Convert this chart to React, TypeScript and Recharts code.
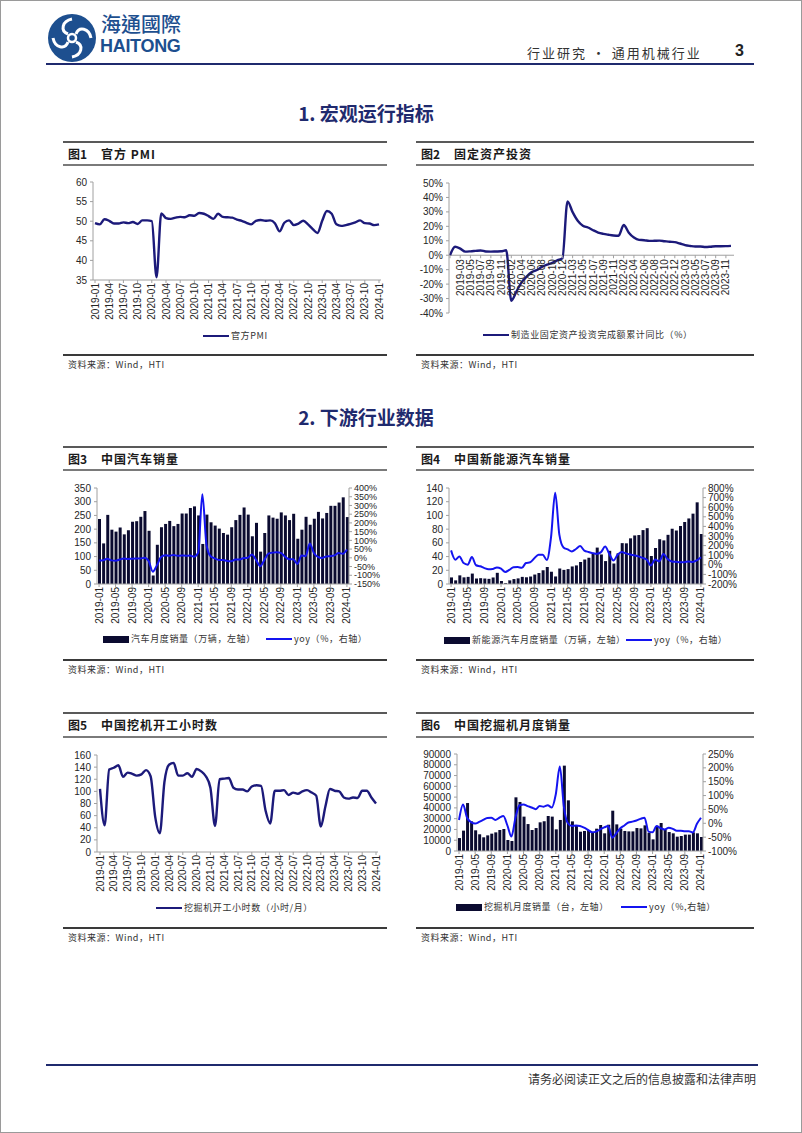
import React from "react";
import { ComposedChart, LineChart, Line, Bar, XAxis, YAxis, ReferenceLine } from "recharts";

const FONT = "'Liberation Sans', Arial, sans-serif";
const CJK = "'Noto Sans CJK SC', 'Noto Sans', sans-serif";
const NAVY = "#1c1a7a";
const BLUE = "#1414f0";
const BARC = "#0b0b30";
const AXIS = "#a0a0a0";

function monthRange(y0: number, m0: number, y1: number, m1: number, skipJan = false) {
  const out: string[] = [];
  for (let y = y0; y <= y1; y++) {
    for (let m = 1; m <= 12; m++) {
      if ((y === y0 && m < m0) || (y === y1 && m > m1)) continue;
      if (skipJan && m === 1) continue;
      out.push(`${y}-${String(m).padStart(2, "0")}`);
    }
  }
  return out;
}

// categories
const months = monthRange(2019, 1, 2024, 1);
const faiMonths = ["", ...monthRange(2019, 2, 2023, 12, true)];

// 图1 官方PMI
const pmi = [
  49.5, 49.2, 50.5, 50.1, 49.4, 49.4, 49.7, 49.5, 49.8, 49.3, 50.2, 50.2,
  50.0, 35.7, 52.0, 50.8, 50.6, 50.9, 51.1, 51.0, 51.5, 51.4, 52.1, 51.9,
  51.3, 50.6, 51.9, 51.1, 51.0, 50.9, 50.4, 50.1, 49.6, 49.2, 50.1, 50.3,
  50.1, 50.2, 49.5, 47.4, 49.6, 50.2, 49.0, 49.4, 50.1, 49.2, 48.0, 47.0,
  50.1, 52.6, 51.9, 49.2, 48.8, 49.0, 49.3, 49.7, 50.2, 49.5, 49.4, 49.0,
  49.2,
];
const pmiTicks = [35, 40, 45, 50, 55, 60];

// 图2 制造业固定资产投资累计同比
const fai = [
  0,
  5.9, 4.6, 2.5, 2.7, 3.0, 3.3, 2.6, 2.5, 2.6, 2.7, 3.4,
  -31.5, -25.2, -18.8, -14.8, -11.7, -10.2, -8.1, -6.5, -5.3, -3.5, -2.2,
  37.3, 29.8, 23.8, 20.4, 19.2, 17.3, 15.7, 14.8, 14.2, 13.7, 13.5,
  20.9, 15.6, 12.2, 10.6, 10.4, 9.9, 10.0, 10.1, 9.7, 9.3, 9.1,
  8.1, 7.0, 6.4, 6.0, 6.0, 5.7, 5.9, 6.2, 6.2, 6.3, 6.5,
];
const faiTicks = [-40, -30, -20, -10, 0, 10, 20, 30, 40, 50];

// 图3 汽车销量
const autoSales = [
  237, 148, 252, 198, 191, 206, 181, 196, 227, 229, 245, 266,
  194, 31, 143, 207, 219, 230, 211, 219, 257, 257, 277, 283,
  250, 146, 253, 225, 213, 202, 186, 180, 207, 233, 252, 279,
  253, 174, 223, 118, 186, 250, 242, 238, 261, 250, 233, 256,
  165, 198, 245, 216, 238, 263, 239, 259, 285, 285, 297, 316,
  244,
];
const autoYoy = [
  -15.8, -13.8, -5.2, -14.6, -16.4, -9.6, -4.3, -6.9, -5.2, -4.0, -3.6, 0.1,
  -18.7, -79.1, -43.3, 4.4, 14.5, 11.6, 16.4, 11.6, 12.8, 12.5, 12.6, 6.4,
  29.5, 364.9, 74.9, 8.6, -3.1, -12.4, -11.9, -17.8, -19.6, -9.4, -9.1, -1.6,
  0.9, 18.7, -11.7, -47.6, -12.6, 23.8, 29.7, 32.1, 28.1, 6.9, -7.9, -8.4,
  -35.0, 13.5, 9.7, 82.7, 27.9, 4.8, -1.5, 8.2, 9.5, 13.8, 27.4, 23.5,
  47.9,
];
const autoLeftTicks = [0, 50, 100, 150, 200, 250, 300, 350];
const autoRightTicks = [-150, -100, -50, 0, 50, 100, 150, 200, 250, 300, 350, 400];

// 图4 新能源汽车销量
const nevSales = [
  9.6, 5.3, 12.6, 9.7, 10.4, 15.2, 8.0, 8.5, 8.0, 7.5, 9.5, 16.3,
  4.4, 1.3, 5.3, 7.2, 8.2, 10.4, 9.8, 10.9, 13.8, 16.0, 20.0, 24.8,
  17.9, 11.0, 22.6, 20.6, 21.7, 25.6, 27.1, 32.1, 35.7, 38.3, 45.0, 53.1,
  43.1, 33.4, 48.4, 29.9, 44.7, 59.6, 59.3, 66.6, 70.8, 71.4, 78.6, 81.4,
  40.8, 52.5, 65.3, 63.6, 71.7, 80.6, 78.0, 84.6, 90.4, 95.6, 102.6, 119.1,
  72.9,
];
const nevYoy = [
  150, 53.6, 85.4, 18.1, 1.8, 80.0, -4.7, -15.8, -34.2, -45.6, -43.7, -27.4,
  -40, -75.2, -53.2, -26.2, -23.5, -31.7, 19.3, 25.8, 67.7, 104.5, 104.9, 49.5,
  285.8, 750, 314.4, 180.3, 160.1, 139.3, 164.9, 194.9, 148.1, 133.8, 121.8, 114.1,
  132.0, 190, 114.2, 44.6, 105.2, 133.0, 118.6, 107.6, 98.2, 87.6, 72.3, 51.8,
  -6.9, 55.9, 34.8, 112.8, 60.2, 35.2, 31.6, 27.0, 27.7, 33.9, 30.0, 46.4,
  78.8,
];
const nevLeftTicks = [0, 20, 40, 60, 80, 100, 120, 140];
const nevRightTicks = [-200, -100, 0, 100, 200, 300, 400, 500, 600, 700, 800];

// 图5 挖机开工小时数
const excHours = [
  104, 44, 136, 139, 143, 124, 131, 129, 126, 128, 135, 125,
  58, 31, 115, 144, 147, 126, 126, 130, 124, 137, 133, 125,
  106, 43, 120, 121, 122, 106, 103, 103, 100, 108, 110, 109,
  68, 47, 101, 101, 102, 94, 98, 96, 100, 102, 98, 93,
  42, 75, 104, 101, 100, 90, 88, 90, 89, 101, 101, 90,
  80,
];
const hoursTicks = [0, 20, 40, 60, 80, 100, 120, 140, 160];

// 图6 挖掘机月度销量
const excSales = [
  12000, 18900, 44500, 27500, 19200, 15500, 12700, 14500, 16100, 17300, 19500, 20400,
  10200, 9300, 49800, 45500, 31900, 25000, 19500, 21300, 26600, 27500, 32500, 31900,
  20100, 28800, 79200, 47000, 27500, 23200, 17900, 18600, 19500, 17600, 20700, 24100,
  16400, 24400, 37400, 24700, 20700, 18600, 18200, 18200, 21300, 21000, 23800, 17000,
  10800, 22900, 26000, 20100, 17600, 16400, 13300, 13900, 15200, 15200, 17300, 16400,
  13000,
];
const excYoy = [
  12, 68, 20, 4, -1, 5, 12, 19, 20, 12, 20, 26,
  -8, -48, 20, 65, 68, 62, 57, 51, 62, 60, 65, 57,
  105, 205, 60, 0, -10, -8, -10, -16, -24, -32, -30, -22,
  -15, -10, -52, -36, -18, -8, 3, 6, 10, 16, 20, -30,
  -32, -10, -18, -22, -16, -20, -27, -27, -29, -29, -33, -2,
  20,
];
const excLeftTicks = [0, 10000, 20000, 30000, 40000, 50000, 60000, 70000, 80000, 90000];
const excRightTicks = [-100, -50, 0, 50, 100, 150, 200, 250];

const pmiData = months.map((m, i) => ({ m, v: pmi[i] }));
const faiData = faiMonths.map((m, i) => ({ m, v: fai[i] }));
const autoData = months.map((m, i) => ({ m, bar: autoSales[i], yoy: autoYoy[i] }));
const nevData = months.map((m, i) => ({ m, bar: nevSales[i], yoy: nevYoy[i] }));
const hoursData = months.map((m, i) => ({ m, v: excHours[i] }));
const excData = months.map((m, i) => ({ m, bar: excSales[i], yoy: excYoy[i] }));

const tickStyle = { fontSize: 10, fill: "#262626", fontFamily: FONT };
const smallTick = { fontSize: 9, fill: "#262626", fontFamily: FONT };
const pct = (v: number) => `${v}%`;

function RotTick(props: any) {
  const { x, y, payload } = props;
  return (
    <text
      x={x}
      y={y}
      transform={`rotate(-90 ${x} ${y})`}
      textAnchor="end"
      dominantBaseline="central"
      fontSize={10}
      fill="#262626"
      fontFamily={FONT}
    >
      {payload.value}
    </text>
  );
}

// ticks sit on the zero line of 图2, not on the bottom of the plot
const FAI_ZERO_SHIFT = (130 * 40) / 90;
function FaiTick(props: any) {
  const { x, y, payload } = props;
  const zy = y - FAI_ZERO_SHIFT;
  const ty = zy + 4;
  return (
    <g>
      <line x1={x} y1={zy} x2={x} y2={zy + 3} stroke={AXIS} />
      <text
        x={x}
        y={ty}
        transform={`rotate(-90 ${x} ${ty})`}
        textAnchor="end"
        dominantBaseline="central"
        fontSize={10}
        fill="#262626"
        fontFamily={FONT}
      >
        {payload.value}
      </text>
    </g>
  );
}

function Abs({ x, y, children, style }: any) {
  return <div style={{ position: "absolute", left: x, top: y, ...style }}>{children}</div>;
}

function Panel({ left, width, top, underline, bottom, no, title }: any) {
  return (
    <>
      <Abs x={left} y={top - 1} style={{ width, height: 2, background: "#595959" }} />
      <Abs
        x={left + 5}
        y={top + 4}
        style={{ fontFamily: CJK, fontSize: 12, fontWeight: 700, color: "#1a1a1a", whiteSpace: "nowrap", lineHeight: "15px" }}
      >
        <span>图{no}</span>
        <span style={{ marginLeft: 14, letterSpacing: 1 }}>{title}</span>
      </Abs>
      <Abs x={left} y={underline} style={{ width, height: 1.5, background: "#7a7a7a" }} />
      <Abs x={left} y={bottom} style={{ width, height: 1.5, background: "#3a3a3a" }} />
      <Abs
        x={left + 5}
        y={bottom + 5}
        style={{ fontFamily: CJK, fontSize: 9, color: "#333", whiteSpace: "nowrap", lineHeight: "12px", letterSpacing: 0.5 }}
      >
        资料来源：Wind，HTI
      </Abs>
    </>
  );
}

function LegendItem({ x, y, kind, color, text, sw = 26 }: any) {
  const h = kind === "bar" ? 7 : 2.5;
  return (
    <>
      <Abs x={x} y={y - h / 2} style={{ width: sw, height: h, background: color }} />
      <Abs
        x={x + sw + 2}
        y={y - 7}
        style={{ fontFamily: CJK, fontSize: 9, color: "#333", whiteSpace: "nowrap", lineHeight: "14px", letterSpacing: 0.6 }}
      >
        {text}
      </Abs>
    </>
  );
}

function SectionTitle({ y, text }: any) {
  return (
    <Abs
      x={0}
      y={y - 12}
      style={{ width: 730, textAlign: "center", fontFamily: CJK, fontWeight: 700, fontSize: 19, color: "#1f2a6e", lineHeight: "24px", whiteSpace: "nowrap" }}
    >
      {text}
    </Abs>
  );
}

function Logo() {
  return (
    <svg style={{ position: "absolute", left: 46, top: 12 }} width={50} height={50} viewBox="0 0 50 50">
      <circle cx={25} cy={25} r={24} fill="#1d4f8f" />
      <circle cx={25} cy={25} r={4} fill="none" stroke="#fff" strokeWidth={2.5} />
      <path d="M25 6 C15 8 13 18 21 21" fill="none" stroke="#fff" strokeWidth={3} />
      <path d="M44 25 C42 15 32 13 29 21" fill="none" stroke="#fff" strokeWidth={3} />
      <path d="M25 44 C35 42 37 32 29 29" fill="none" stroke="#fff" strokeWidth={3} />
      <path d="M6 25 C8 35 18 37 21 29" fill="none" stroke="#fff" strokeWidth={3} />
    </svg>
  );
}

export default function App() {
  return (
    <div
      style={{
        position: "absolute",
        left: 0,
        top: 0,
        width: 802,
        height: 1133,
        background: "#fff",
        overflow: "hidden",
        boxSizing: "border-box",
        border: "1px solid #9a9a9a",
      }}
    >
      {/* header */}
      <Logo />
      <Abs x={100} y={11} style={{ fontFamily: "'Noto Sans CJK TC', sans-serif", fontSize: 20, color: "#1d4f8f", lineHeight: "24px", fontWeight: 500, letterSpacing: 0 }}>
        海通國際
      </Abs>
      <Abs x={99} y={35} style={{ fontFamily: FONT, fontSize: 18, fontWeight: 700, color: "#1d4f8f", lineHeight: "20px", letterSpacing: -0.3 }}>
        HAITONG
      </Abs>
      <Abs x={526} y={44} style={{ fontFamily: CJK, fontSize: 13, color: "#333", lineHeight: "16px", letterSpacing: 2, whiteSpace: "nowrap" }}>
        行业研究 • 通用机械行业
      </Abs>
      <Abs x={734} y={41} style={{ fontFamily: FONT, fontSize: 16, fontWeight: 700, color: "#222", lineHeight: "18px" }}>
        3
      </Abs>
      <Abs x={45} y={62} style={{ width: 708, height: 2, background: "#1f2a6e" }} />

      <SectionTitle y={112} text="1. 宏观运行指标" />
      <SectionTitle y={416} text="2. 下游行业数据" />

      {/* row 1 */}
      <Panel left={62} width={324} top={141} underline={163} bottom={353} no={1} title="官方 PMI" />
      <Panel left={415} width={338} top={141} underline={163} bottom={353} no={2} title="固定资产投资" />

      <Abs x={62} y={170}>
        <LineChart width={330} height={155} data={pmiData} margin={{ top: 11, right: 12, left: 0, bottom: 0 }}>
          <XAxis
            dataKey="m"
            interval={2}
            height={46}
            tick={<RotTick />}
            tickSize={3}
            tickMargin={0}
            stroke={AXIS}
            padding={{ left: 2, right: 2 }}
          />
          <YAxis width={30} domain={[35, 60]} ticks={pmiTicks} interval={0} tick={tickStyle} tickSize={3} tickMargin={3} stroke={AXIS} />
          <Line type="monotone" dataKey="v" stroke={NAVY} strokeWidth={2.4} dot={false} isAnimationActive={false} />
        </LineChart>
      </Abs>
      <LegendItem x={202} y={335} kind="line" color={NAVY} text="官方PMI" />

      <Abs x={415} y={170}>
        <LineChart width={340} height={160} data={faiData} margin={{ top: 12, right: 22, left: 0, bottom: 0 }}>
          <XAxis
            dataKey="m"
            interval={1}
            height={18}
            axisLine={false}
            tickLine={false}
            tickSize={0}
            tickMargin={0}
            tick={<FaiTick />}
            padding={{ left: 1, right: 3 }}
          />
          <YAxis width={33} domain={[-40, 50]} ticks={faiTicks} interval={0} tickFormatter={pct} tick={tickStyle} tickSize={3} tickMargin={3} stroke={AXIS} />
          <ReferenceLine y={0} stroke={AXIS} />
          <Line type="monotone" dataKey="v" stroke={NAVY} strokeWidth={2.4} dot={false} isAnimationActive={false} />
        </LineChart>
      </Abs>
      <LegendItem x={482} y={334} kind="line" color={NAVY} text="制造业固定资产投资完成额累计同比（%）" />

      {/* row 2 */}
      <Panel left={62} width={324} top={446} underline={468} bottom={658} no={3} title="中国汽车销量" />
      <Panel left={415} width={338} top={446} underline={468} bottom={658} no={4} title="中国新能源汽车销量" />

      <Abs x={62} y={475}>
        <ComposedChart width={330} height={152} data={autoData} margin={{ top: 12, right: 8, left: 0, bottom: 0 }}>
          <XAxis dataKey="m" interval={3} height={44} tick={<RotTick />} tickSize={3} tickMargin={0} stroke={AXIS} />
          <YAxis yAxisId="l" width={34} domain={[0, 350]} ticks={autoLeftTicks} interval={0} tick={tickStyle} tickSize={3} tickMargin={3} stroke={AXIS} />
          <YAxis yAxisId="r" orientation="right" width={36} domain={[-150, 400]} ticks={autoRightTicks} interval={0} tickFormatter={pct} tick={smallTick} tickSize={3} tickMargin={2} stroke={AXIS} />
          <Bar yAxisId="l" dataKey="bar" fill={BARC} barSize={3} isAnimationActive={false} />
          <Line yAxisId="r" type="monotone" dataKey="yoy" stroke={BLUE} strokeWidth={2} dot={false} isAnimationActive={false} />
        </ComposedChart>
      </Abs>
      <LegendItem x={102} y={638} kind="bar" color={BARC} text="汽车月度销量（万辆，左轴）" />
      <LegendItem x={265} y={638} kind="line" color={BLUE} text="yoy（%，右轴）" />

      <Abs x={415} y={475}>
        <ComposedChart width={340} height={152} data={nevData} margin={{ top: 12, right: 8, left: 0, bottom: 0 }}>
          <XAxis dataKey="m" interval={3} height={44} tick={<RotTick />} tickSize={3} tickMargin={0} stroke={AXIS} />
          <YAxis yAxisId="l" width={33} domain={[0, 140]} ticks={nevLeftTicks} interval={0} tick={tickStyle} tickSize={3} tickMargin={3} stroke={AXIS} />
          <YAxis yAxisId="r" orientation="right" width={45} domain={[-200, 800]} ticks={nevRightTicks} interval={0} tickFormatter={pct} tick={tickStyle} tickSize={3} tickMargin={2} stroke={AXIS} />
          <Bar yAxisId="l" dataKey="bar" fill={BARC} barSize={3} isAnimationActive={false} />
          <Line yAxisId="r" type="monotone" dataKey="yoy" stroke={BLUE} strokeWidth={2} dot={false} isAnimationActive={false} />
        </ComposedChart>
      </Abs>
      <LegendItem x={443} y={639} kind="bar" color={BARC} text="新能源汽车月度销量（万辆，左轴）" />
      <LegendItem x={625} y={639} kind="line" color={BLUE} text="yoy（%，右轴）" />

      {/* row 3 */}
      <Panel left={62} width={324} top={712} underline={735} bottom={926} no={5} title="中国挖机开工小时数" />
      <Panel left={415} width={338} top={712} underline={735} bottom={926} no={6} title="中国挖掘机月度销量" />

      <Abs x={62} y={742}>
        <LineChart width={330} height={152} data={hoursData} margin={{ top: 12, right: 15, left: 0, bottom: 0 }}>
          <XAxis
            dataKey="m"
            interval={2}
            height={43}
            tick={<RotTick />}
            tickSize={3}
            tickMargin={0}
            stroke={AXIS}
            padding={{ left: 3, right: 2 }}
          />
          <YAxis width={34} domain={[0, 160]} ticks={hoursTicks} interval={0} tick={tickStyle} tickSize={3} tickMargin={3} stroke={AXIS} />
          <Line type="monotone" dataKey="v" stroke={NAVY} strokeWidth={2.4} dot={false} isAnimationActive={false} />
        </LineChart>
      </Abs>
      <LegendItem x={155} y={907} kind="line" color={NAVY} text="挖掘机开工小时数（小时/月）" />

      <Abs x={415} y={742}>
        <ComposedChart width={340} height={152} data={excData} margin={{ top: 11, right: 8, left: 0, bottom: 0 }}>
          <XAxis dataKey="m" interval={3} height={44} tick={<RotTick />} tickSize={3} tickMargin={0} stroke={AXIS} />
          <YAxis yAxisId="l" width={41} domain={[0, 90000]} ticks={excLeftTicks} interval={0} tick={tickStyle} tickSize={3} tickMargin={3} stroke={AXIS} />
          <YAxis yAxisId="r" orientation="right" width={45} domain={[-100, 250]} ticks={excRightTicks} interval={0} tickFormatter={pct} tick={tickStyle} tickSize={3} tickMargin={2} stroke={AXIS} />
          <Bar yAxisId="l" dataKey="bar" fill={BARC} barSize={3} isAnimationActive={false} />
          <Line yAxisId="r" type="monotone" dataKey="yoy" stroke={BLUE} strokeWidth={2} dot={false} isAnimationActive={false} />
        </ComposedChart>
      </Abs>
      <LegendItem x={455} y={906} kind="bar" color={BARC} text="挖掘机月度销量（台，左轴）" />
      <LegendItem x={620} y={906} kind="line" color={BLUE} text="yoy（%,右轴）" />

      {/* footer */}
      <Abs x={45} y={1063} style={{ width: 712, height: 2, background: "#1f2a6e" }} />
      <Abs x={527} y={1070} style={{ fontFamily: CJK, fontSize: 12, color: "#333", lineHeight: "15px", letterSpacing: 0, whiteSpace: "nowrap" }}>
        请务必阅读正文之后的信息披露和法律声明
      </Abs>
    </div>
  );
}
